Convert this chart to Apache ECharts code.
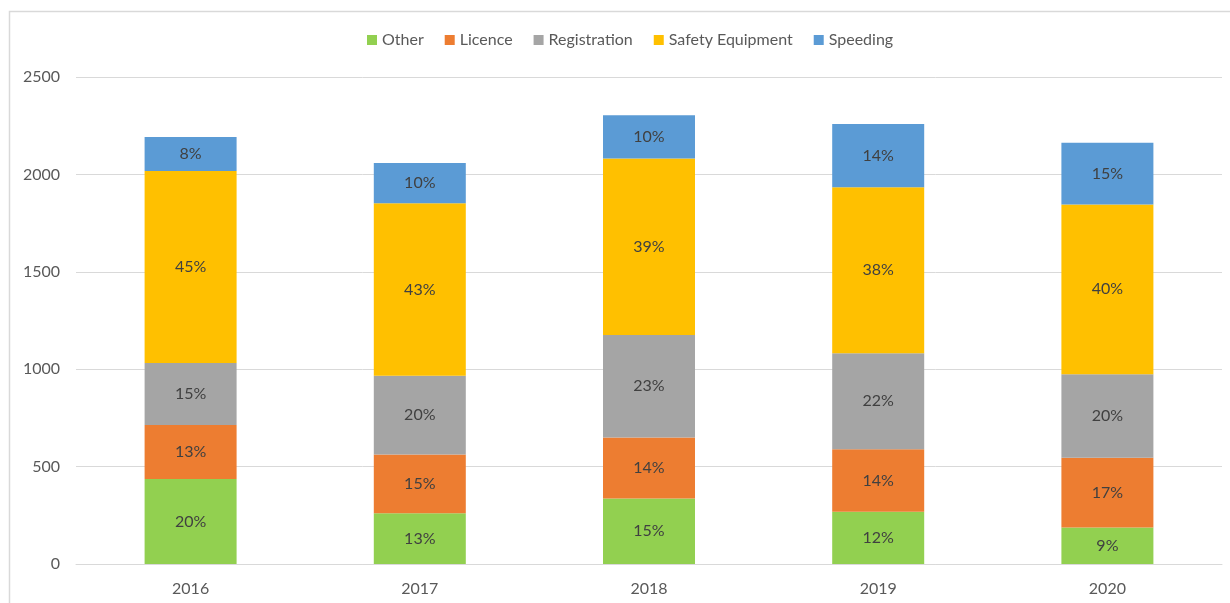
<!DOCTYPE html>
<html>
<head>
<meta charset="utf-8">
<script src="https://cdn.jsdelivr.net/npm/echarts@6/dist/echarts.min.js"></script>
<style>
  html, body { margin: 0; padding: 0; background: #fff; }
  #main { width: 1230px; height: 603px; }
</style>
</head>
<body>
<div id="main"></div>
<script>
var years = ['2016', '2017', '2018', '2019', '2020'];
var other = [436, 260, 336, 268, 188];
var licence = [278, 302, 313, 321, 358];
var registration = [318, 405, 526, 493, 428];
var safetyEquipment = [985, 885, 907, 852, 872];
var speeding = [175, 207, 222, 325, 317];
var yTicks = [0, 500, 1000, 1500, 2000, 2500];

var myChart = echarts.init(document.getElementById('main'));

// totals per year, for the percentage labels
var totals = years.map(function (y, i) {
  return other[i] + licence[i] + registration[i] + safetyEquipment[i] + speeding[i];
});

var FONT = 'Lato';

function makeSeries(name, data, color) {
  return {
    name: name,
    type: 'bar',
    stack: 'all',
    barWidth: 92,
    data: data,
    itemStyle: { color: color },
    label: {
      show: true,
      position: 'inside',
      color: '#404040',
      fontSize: 16,
      fontFamily: FONT,
      formatter: function (p) {
        return Math.round(p.value / totals[p.dataIndex] * 100) + '%';
      }
    }
  };
}

var option = {
  animation: false,
  backgroundColor: '#fff',
  legend: {
    top: 27,
    left: 362,
    itemWidth: 10,
    itemHeight: 10,
    itemGap: 21,
    icon: 'rect',
    textStyle: { color: '#595959', fontSize: 16, fontFamily: FONT, padding: [0, 0, 0, 0] },
    data: ['Other', 'Licence', 'Registration', 'Safety Equipment', 'Speeding']
  },
  grid: { left: 76, right: 8, top: 77, bottom: 39 },
  xAxis: {
    type: 'category',
    data: years,
    axisLine: { lineStyle: { color: '#d9d9d9', width: 1 } },
    axisTick: { show: false },
    axisLabel: { color: '#595959', fontSize: 16, fontFamily: FONT, margin: 17 }
  },
  yAxis: {
    type: 'value',
    min: yTicks[0],
    max: yTicks[yTicks.length - 1],
    interval: 500,
    axisLine: { show: false },
    axisTick: { show: false },
    splitLine: { lineStyle: { color: '#d9d9d9', width: 1 } },
    axisLabel: {
      color: '#595959', fontSize: 16, fontFamily: FONT, margin: 16,
      formatter: function (v) { return String(v); }
    }
  },
  graphic: [{
    type: 'rect',
    shape: { x: 9.5, y: 11.5, width: 1240, height: 620 },
    style: { fill: 'none', stroke: '#d9d9d9', lineWidth: 1.5 },
    silent: true
  }],
  series: [
    makeSeries('Other', other, '#92d050'),
    makeSeries('Licence', licence, '#ed7d31'),
    makeSeries('Registration', registration, '#a5a5a5'),
    makeSeries('Safety Equipment', safetyEquipment, '#ffc000'),
    makeSeries('Speeding', speeding, '#5b9bd5')
  ]
};

myChart.setOption(option);
</script>
</body>
</html>
